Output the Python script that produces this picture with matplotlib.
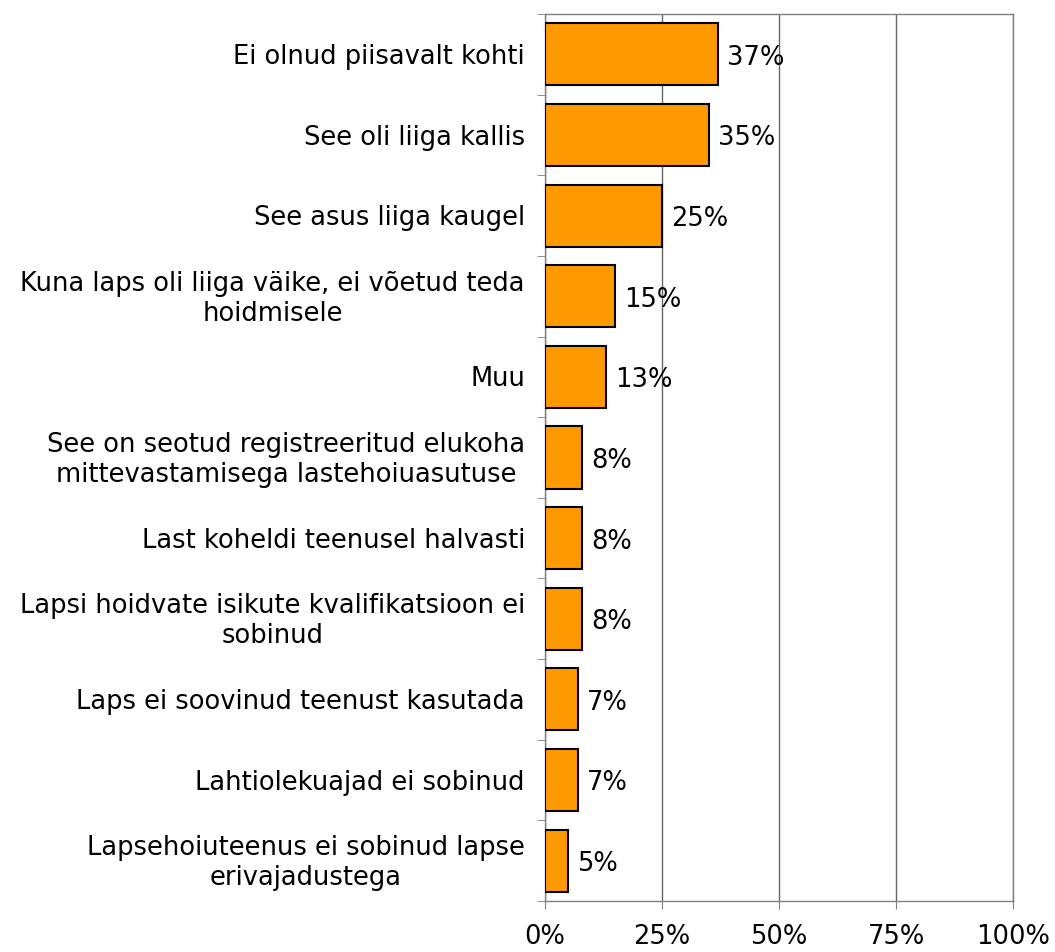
import matplotlib.pyplot as plt
import numpy as np

# --- Data ---
categories = [
    "Ei olnud piisavalt kohti",
    "See oli liiga kallis",
    "See asus liiga kaugel",
    "Kuna laps oli liiga väike, ei võetud teda\nhoidmisele",
    "Muu",
    "See on seotud registreeritud elukoha\nmittevastamisega lastehoiuasutuse",
    "Last koheldi teenusel halvasti",
    "Lapsi hoidvate isikute kvalifikatsioon ei\nsobinud",
    "Laps ei soovinud teenust kasutada",
    "Lahtiolekuajad ei sobinud",
    "Lapsehoiuteenus ei sobinud lapse\nerivajadustega",
]
values = [37, 35, 25, 15, 13, 8, 8, 8, 7, 7, 5]
xticks = [0, 25, 50, 75, 100]
xtick_labels = ["0%", "25%", "50%", "75%", "100%"]

FS = 18.5

# --- Figure ---
fig = plt.figure(figsize=(10.55, 9.53), dpi=100)
ax = fig.add_axes([545 / 1055, 1 - 902 / 953, (1013 - 545) / 1055, (902 - 15) / 953])

n = len(categories)
y = np.arange(n)
ax.barh(y, values, height=0.77, color="#FF9900", edgecolor="black", linewidth=1.5, zorder=3)

for yi, v in zip(y, values):
    ax.text(v + 1.9, yi + 0.03, f"{v}%", va="center", ha="left", fontsize=FS, zorder=4)

ax.set_xlim(0, 100)
ax.set_ylim(n - 0.5, -0.5)

# category labels (centered multi-line, right aligned next to axis)
ax.set_yticks(y)
ax.set_yticklabels([])
ax.tick_params(axis="y", which="major", length=0)
for yi, lab in zip(y, categories):
    ax.text(-4.3, yi + 0.02, lab, ha="right", va="center", multialignment="center",
            fontsize=FS)

# ticks on category boundaries
ax.set_yticks(np.arange(-0.5, n, 1), minor=True)
ax.tick_params(axis="y", which="minor", length=6, direction="out", color="#808080")

ax.set_xticks(xticks)
ax.set_xticklabels(xtick_labels, fontsize=FS)
ax.tick_params(axis="x", length=6, direction="out", color="#808080", pad=10)

ax.grid(axis="x", color="#666666", linewidth=1, zorder=0)
for s in ax.spines.values():
    s.set_color("#808080")
    s.set_linewidth(1)

fig.savefig("out.png", dpi=100)
